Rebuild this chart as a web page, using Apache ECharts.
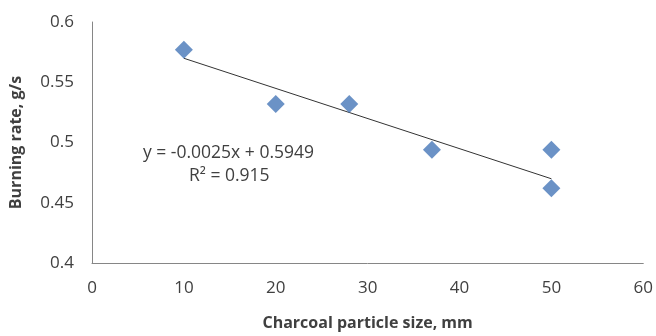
<!DOCTYPE html>
<html>
<head>
<meta charset="utf-8">
<script src="https://cdn.jsdelivr.net/npm/echarts@6/dist/echarts.min.js"></script>
<style>
  html, body { margin: 0; padding: 0; background: #fff; }
  #chart { width: 656px; height: 336px; }
</style>
</head>
<body>
<div id="chart"></div>
<script>
// measured points
const particleSize = [10, 20, 28, 37, 50, 50];
const burningRate = [0.577, 0.532, 0.532, 0.494, 0.494, 0.462];

// linear trendline as printed on the chart
const slope = -0.0025;
const intercept = 0.5949;
const rSquared = 0.915;
const trendX = [10, 50];

const textColor = '#404040';
const font = 'Open Sans';

const chart = echarts.init(document.getElementById('chart'));

chart.setOption({
  animation: false,
  grid: { left: 91, right: 11, top: 22, bottom: 67 },
  xAxis: {
    type: 'value',
    min: 0,
    max: 60,
    interval: 10,
    name: 'Charcoal particle size, mm',
    nameLocation: 'middle',
    nameGap: 52,
    nameTextStyle: { color: textColor, fontFamily: font, fontSize: 16, fontWeight: 'bold' },
    axisLine: { lineStyle: { color: '#868686', width: 1 } },
    axisTick: { show: false },
    axisLabel: { color: textColor, fontFamily: font, fontSize: 17, margin: 17 },
    splitLine: { show: false },
  },
  yAxis: {
    type: 'value',
    min: 0.4,
    max: 0.6,
    interval: 0.05,
    name: 'Burning rate, g/s',
    nameLocation: 'middle',
    nameGap: 68,
    nameTextStyle: { color: textColor, fontFamily: font, fontSize: 16, fontWeight: 'bold' },
    axisLine: { show: true, lineStyle: { color: '#868686', width: 1 } },
    axisTick: { show: false },
    axisLabel: { color: textColor, fontFamily: font, fontSize: 17, margin: 18 },
    splitLine: { show: false },
  },
  series: [
    {
      name: 'trend',
      type: 'line',
      data: trendX.map((x) => [x, slope * x + intercept]),
      symbol: 'none',
      lineStyle: { color: '#333', width: 1 },
      silent: true,
      z: 1,
    },
    {
      name: 'burning rate',
      type: 'scatter',
      data: particleSize.map((x, i) => [x, burningRate[i]]),
      symbol: 'diamond',
      symbolSize: 18,
      itemStyle: { color: '#4677b8' },
      z: 2,
    },
  ],
  graphic: [
    {
      type: 'text',
      left: 143,
      top: 144,
      style: {
        text: 'y = -0.0025x + 0.5949',
        fill: textColor,
        font: '17.5px "Open Sans"',
      },
    },
    {
      type: 'text',
      left: 189,
      top: 167,
      style: {
        text: 'R² = ' + rSquared,
        fill: textColor,
        font: '17.5px "Open Sans"',
      },
    },
  ],
});
</script>
</body>
</html>
